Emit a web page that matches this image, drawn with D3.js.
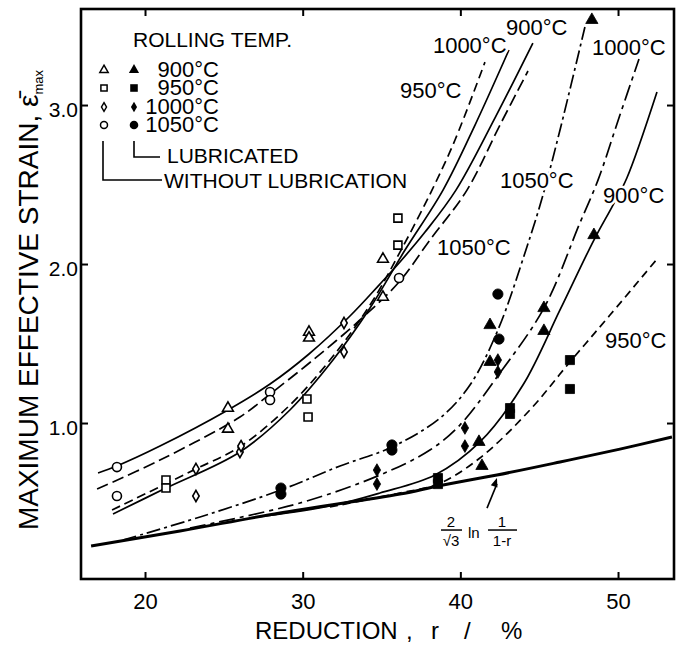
<!DOCTYPE html>
<html>
<head>
<meta charset="utf-8">
<script src="https://cdn.jsdelivr.net/npm/d3@7"></script>
<style>
  body { margin: 0; background: #fff; }
  svg { display: block; font-family: "Liberation Sans", Arial, sans-serif; }
</style>
</head>
<body>
<svg id="chart" width="678" height="645"></svg>
<script>
// ---- values: [reduction r (%), max effective strain] ----
const xTicks = [20, 30, 40, 50];
const yTicks = [1.0, 2.0, 3.0];
const temps = ["900°C", "950°C", "1000°C", "1050°C"];

// without lubrication (open symbols)
const open900 = [[25.26, 1.094], [25.26, 0.962], [30.40, 1.572], [30.40, 1.535], [35.09, 2.031], [35.09, 1.792]];
const open950 = [[21.33, 0.642], [21.33, 0.591], [30.27, 1.151], [30.34, 1.038], [36.04, 2.289], [36.04, 2.119]];
const open1000 = [[23.23, 0.711], [23.23, 0.541], [26.02, 0.818], [26.09, 0.855], [32.62, 1.629], [32.62, 1.447]];
const open1050 = [[18.22, 0.723], [18.22, 0.541], [27.93, 1.195], [27.93, 1.145], [36.11, 1.912]];

// lubricated (filled symbols)
const lub900 = [[41.18, 0.881], [41.37, 0.730], [41.88, 1.616], [41.88, 1.384], [45.30, 1.723], [45.30, 1.579], [48.47, 2.182], [48.34, 3.535]];
const lub950 = [[38.58, 0.654], [38.58, 0.616], [43.15, 1.094], [43.15, 1.057], [46.95, 1.396], [46.95, 1.214]];
const lub1000 = [[34.71, 0.704], [34.71, 0.616], [40.29, 0.969], [40.29, 0.855], [42.38, 1.396], [42.38, 1.321]];
const lub1050 = [[28.62, 0.591], [28.62, 0.553], [35.66, 0.862], [35.66, 0.830], [42.38, 1.811], [42.45, 1.528]];

// fitted curves
const curve900 = [[17.02, 0.686], [18.22, 0.730], [20.95, 0.855], [25.26, 1.082], [27.93, 1.245], [30.40, 1.434], [33.00, 1.673], [34.90, 1.874], [36.17, 2.013], [37.76, 2.201], [39.72, 2.465], [42.19, 2.918], [44.60, 3.390]];
const curve950 = [[17.91, 0.453], [23.23, 0.711], [26.09, 0.855], [29.19, 1.113], [31.73, 1.396], [34.27, 1.742], [36.17, 2.075], [38.20, 2.465], [39.66, 2.780], [41.56, 3.270]];
const curve1000 = [[17.97, 0.428], [21.33, 0.591], [26.02, 0.818], [29.19, 1.082], [31.92, 1.396], [34.27, 1.723], [36.49, 2.088], [38.90, 2.465], [40.93, 2.874], [43.08, 3.346]];
const curve1050 = [[16.96, 0.585], [20.95, 0.767], [26.02, 1.038], [27.93, 1.182], [30.65, 1.396], [33.63, 1.648], [36.11, 1.887], [38.07, 2.151], [40.42, 2.465], [42.51, 2.874], [44.29, 3.214]];

const curveLub900 = [[26.66, 0.403], [31.73, 0.478], [34.90, 0.560], [38.39, 0.673], [41.24, 0.881], [43.97, 1.239], [46.32, 1.711], [48.47, 2.151], [49.68, 2.371], [50.56, 2.541], [52.47, 3.082]];
const curveLub950 = [[31.73, 0.472], [36.17, 0.560], [38.58, 0.616], [41.24, 0.780], [44.41, 1.082], [46.95, 1.384], [49.49, 1.679], [52.53, 2.038]];
const curveLub1000 = [[22.85, 0.340], [29.83, 0.497], [34.90, 0.673], [38.07, 0.830], [39.97, 0.987], [42.32, 1.289], [45.30, 1.723], [47.58, 2.258], [48.73, 2.528], [50.12, 2.937], [51.33, 3.289]];
const curveLub1050 = [[18.60, 0.264], [23.49, 0.409], [28.62, 0.579], [32.37, 0.730], [35.66, 0.849], [38.71, 1.031], [40.61, 1.239], [42.38, 1.585], [44.22, 2.107], [45.24, 2.434], [46.32, 2.843], [47.90, 3.491]];

// (2/sqrt3) ln 1/(1-r) line, traced
const homogeneous = [[16.58, 0.226], [22.22, 0.321], [28.56, 0.434], [36.17, 0.553], [38.58, 0.604], [42.32, 0.673], [46.32, 0.755], [50.12, 0.836], [53.42, 0.912]];

// curve labels: [text, r, strain] (left end, baseline)
const curveLabels = [
  ["1000°C", 38.26, 3.327], ["900°C", 42.89, 3.440], ["950°C", 36.17, 3.044],
  ["1000°C", 48.35, 3.314], ["1050°C", 42.51, 2.478], ["1050°C", 38.52, 2.057],
  ["900°C", 49.04, 2.384], ["950°C", 49.17, 1.472]
];

// ---- drawing ----
const svg = d3.select("#chart");
const margin = {left: 81, right: 674, top: 9, bottom: 579};

const x = d3.scaleLinear().domain([15.94, 53.55]).range([margin.left, margin.right]);
const y = d3.scaleLinear().domain([0.019, 3.604]).range([margin.bottom, margin.top]);

const line = d3.line().x(d => x(d[0])).y(d => y(d[1])).curve(d3.curveCatmullRom.alpha(0.5));

const curves = [
  {data: curve900, dash: null},
  {data: curve950, dash: "9,5"},
  {data: curve1000, dash: null},
  {data: curve1050, dash: "12,5"},
  {data: curveLub1050, dash: "14,4,3,4"},
  {data: curveLub1000, dash: "16,5,4,5"},
  {data: curveLub900, dash: null},
  {data: curveLub950, dash: "8,5"}
];

svg.append("g").selectAll("path")
  .data(curves)
  .enter()
  .append("path")
  .attr("d", c => line(c.data))
  .attr("fill", "none")
  .attr("stroke", "#000")
  .attr("stroke-width", 1.7)
  .attr("stroke-dasharray", c => c.dash);

svg.append("path")
  .attr("d", line(homogeneous))
  .attr("fill", "none")
  .attr("stroke", "#000")
  .attr("stroke-width", 3);

// curve labels sit in gaps of the lines
svg.append("g").selectAll("text")
  .data(curveLabels)
  .enter()
  .append("text")
  .attr("x", d => x(d[1]))
  .attr("y", d => y(d[2]))
  .attr("font-size", 22)
  .attr("stroke", "#fff")
  .attr("stroke-width", 5)
  .attr("paint-order", "stroke")
  .text(d => d[0]);

// symbols
const shapes = [d3.symbolTriangle, d3.symbolSquare, d3.symbolDiamond, d3.symbolCircle];
const sizes = [50, 64, 36, 64];
const seriesPts = [
  {data: open900, k: 0, filled: false}, {data: open950, k: 1, filled: false},
  {data: open1000, k: 2, filled: false}, {data: open1050, k: 3, filled: false},
  {data: lub900, k: 0, filled: true}, {data: lub950, k: 1, filled: true},
  {data: lub1000, k: 2, filled: true}, {data: lub1050, k: 3, filled: true}
];

seriesPts.forEach(s => {
  svg.append("g").selectAll("path")
    .data(s.data)
    .enter()
    .append("path")
    .attr("transform", d => `translate(${x(d[0])},${y(d[1])})`)
    .attr("d", d3.symbol(shapes[s.k], s.filled ? sizes[s.k] * 1.3 : sizes[s.k]))
    .attr("fill", s.filled ? "#000" : "#fff")
    .attr("stroke", "#000")
    .attr("stroke-width", s.filled ? 0.8 : 1.6);
});

// axes, ticks pointing inward on all four sides
const axes = svg.append("g");

axes.append("g")
  .attr("transform", `translate(0,${margin.bottom})`)
  .call(d3.axisBottom(x).tickValues(xTicks).tickSize(-7).tickPadding(14).tickFormat(d3.format("d")))
  .selectAll("text").attr("font-size", 22);

axes.append("g")
  .attr("transform", `translate(0,${margin.top})`)
  .call(d3.axisTop(x).tickValues(xTicks).tickSize(-7).tickFormat(""));

axes.append("g")
  .attr("transform", `translate(${margin.left},0)`)
  .call(d3.axisLeft(y).tickValues(yTicks).tickSize(-7).tickPadding(3).tickFormat(d3.format(".1f")))
  .selectAll("text").attr("font-size", 21).attr("dy", "0.55em");

axes.append("g")
  .attr("transform", `translate(${margin.right},0)`)
  .call(d3.axisRight(y).tickValues(yTicks).tickSize(-7).tickFormat(""));

axes.selectAll(".domain").remove();
axes.selectAll(".tick line").attr("stroke-width", 2);
axes.selectAll("g").attr("font-family", null);
axes.selectAll("text").attr("fill", "#000");

svg.append("rect")
  .attr("x", margin.left).attr("y", margin.top)
  .attr("width", margin.right - margin.left)
  .attr("height", margin.bottom - margin.top)
  .attr("fill", "none").attr("stroke", "#000").attr("stroke-width", 2.6);

// axis titles
const xTitle = svg.append("text").attr("y", 639).attr("font-size", 24);
[["REDUCTION", 255], [",", 406], ["r", 431], ["/", 464], ["%", 501]].forEach(([t, px]) => {
  xTitle.append("tspan").attr("x", px).text(t);
});

const yTitle = svg.append("text")
  .attr("transform", "translate(38,300) rotate(-90)")
  .attr("text-anchor", "middle")
  .attr("font-size", 28);
yTitle.append("tspan").text("MAXIMUM EFFECTIVE STRAIN,  ε\u0304");
yTitle.append("tspan").attr("font-size", 13).attr("dy", 5).text("max");

// legend
const legend = svg.append("g");
legend.append("text").attr("x", 133).attr("y", 47).attr("font-size", 21).text("ROLLING TEMP.");

temps.forEach((t, i) => {
  const ly = [70, 88, 107, 125][i];
  legend.append("path")
    .attr("transform", `translate(104,${ly})`)
    .attr("d", d3.symbol(shapes[i], sizes[i] * 0.6))
    .attr("fill", "#fff").attr("stroke", "#000").attr("stroke-width", 1.5);
  legend.append("path")
    .attr("transform", `translate(134,${ly})`)
    .attr("d", d3.symbol(shapes[i], sizes[i] * 0.9))
    .attr("fill", "#000");
  legend.append("text")
    .attr("x", 219).attr("y", ly + 7)
    .attr("text-anchor", "end")
    .attr("font-size", 22)
    .text(t);
});

legend.append("path").attr("d", "M134,141V157H160")
  .attr("fill", "none").attr("stroke", "#000").attr("stroke-width", 1.6);
legend.append("path").attr("d", "M103,141V180H162")
  .attr("fill", "none").attr("stroke", "#000").attr("stroke-width", 1.6);
legend.append("text").attr("x", 167).attr("y", 163).attr("font-size", 21).text("LUBRICATED");
legend.append("text").attr("x", 164).attr("y", 188).attr("font-size", 21).text("WITHOUT LUBRICATION");

// label for the homogeneous-strain line
const fx = x(38.71), fy = y(0.327);
const f = svg.append("g").attr("transform", `translate(${fx},${fy})`).attr("font-size", 15);
f.append("text").attr("x", 11).attr("y", -3).attr("text-anchor", "middle").text("2");
f.append("line").attr("x1", 1).attr("x2", 22).attr("y1", 0).attr("y2", 0).attr("stroke", "#000").attr("stroke-width", 1.5);
f.append("text").attr("x", 11).attr("y", 16).attr("text-anchor", "middle").text("√3");
f.append("text").attr("x", 28).attr("y", 8).text("ln");
f.append("text").attr("x", 62).attr("y", -3).attr("text-anchor", "middle").text("1");
f.append("line").attr("x1", 48).attr("x2", 77).attr("y1", 0).attr("y2", 0).attr("stroke", "#000").attr("stroke-width", 1.5);
f.append("text").attr("x", 62).attr("y", 16).attr("text-anchor", "middle").text("1-r");

// arrow to the line
const ax0 = x(41.69), ay0 = y(0.465), ax1 = x(42.32), ay1 = y(0.655);
svg.append("line")
  .attr("x1", ax0).attr("y1", ay0).attr("x2", ax1).attr("y2", ay1 + 6)
  .attr("stroke", "#000").attr("stroke-width", 1.6);
const ang = Math.atan2(ay1 - ay0, ax1 - ax0);
const head = [[0, 0], [-9, -3.5], [-9, 3.5]].map(([px, py]) => [
  ax1 + px * Math.cos(ang) - py * Math.sin(ang),
  ay1 + px * Math.sin(ang) + py * Math.cos(ang)
]);
svg.append("path").attr("d", "M" + head.join("L") + "Z").attr("fill", "#000");
</script>
</body>
</html>
